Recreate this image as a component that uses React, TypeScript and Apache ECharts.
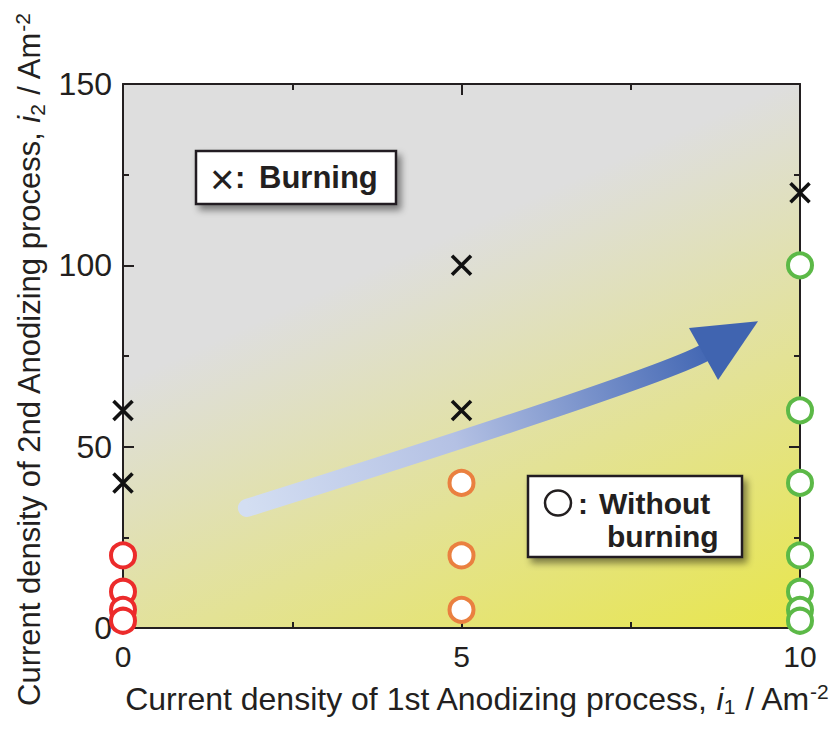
import React, { useEffect, useRef } from "react";
import * as echarts from "echarts";

// ---- data ----
const X_MIN = 0;
const X_MAX = 10;
const Y_MIN = 0;
const Y_MAX = 150;
const BURNING: number[][] = [
  [0, 60],
  [0, 40],
  [5, 100],
  [5, 60],
  [10, 120],
];
const NO_BURN_X0: number[] = [20, 10, 5, 2];
const NO_BURN_X5: number[] = [40, 20, 5];
const NO_BURN_X10: number[] = [100, 60, 40, 20, 10, 5, 2];

const X_TITLE = "{t|Current density of 1st Anodizing process, }{i|i}{sub|1}{t| / Am}{sup|-2}";
const Y_TITLE = "{t|Current density of 2nd Anodizing process, }{i|i}{sub|2}{t| / Am}{sup|-2}";

// ---- annotation geometry (data units) ----
const ARROW_TAIL = [1.83, 33.1];
const ARROW_CTRL = [7.93, 68.9];
const ARROW_END = [8.61, 76.1];
const ARROW_HEAD = [
  [8.36, 82.7],
  [9.38, 84.6],
  [8.79, 68.4],
];
const BG_GRAD_START = [6.96, 126.3];
const BG_GRAD_END = [10, 0];

const FONT = '"Liberation Sans", Arial, Helvetica, sans-serif';
const INK = "#231f20";

function richName(size: number) {
  return {
    t: { fontSize: size, lineHeight: 36, color: INK, fontFamily: FONT },
    i: { fontSize: size, lineHeight: 36, color: INK, fontFamily: FONT, fontStyle: "italic" },
    sub: { fontSize: 21, lineHeight: 20, color: INK, fontFamily: FONT, verticalAlign: "bottom" },
    sup: { fontSize: 21, lineHeight: 20, color: INK, fontFamily: FONT, verticalAlign: "top" },
  };
}

function axisCommon() {
  return {
    axisLine: { show: true, onZero: false, lineStyle: { color: INK, width: 2 } },
    axisTick: { show: true, inside: true, length: 11, lineStyle: { color: INK, width: 2 } },
    minorTick: { show: true, splitNumber: 2, length: 6, lineStyle: { color: INK, width: 2 } },
    splitLine: { show: false },
    minorSplitLine: { show: false },
  };
}

function circleSeries(x: number, ys: number[], color: string) {
  return {
    type: "scatter",
    data: ys.map((y) => [x, y]),
    symbol: "circle",
    symbolSize: 24,
    clip: false,
    silent: true,
    itemStyle: { color: "#ffffff", borderColor: color, borderWidth: 4, opacity: 1 },
    z: 3,
  };
}

function label(text: string, x: number, y: number, font: string) {
  return {
    type: "text",
    silent: true,
    z: 21,
    style: {
      text,
      x,
      y,
      font,
      fill: INK,
      align: "left",
      verticalAlign: "middle",
      textAlign: "left",
      textVerticalAlign: "middle",
    },
  };
}

export default function App() {
  const ref = useRef<HTMLDivElement>(null);

  useEffect(() => {
    const chart = echarts.init(ref.current!, null, { renderer: "svg" });
    chart.setOption({
      animation: false,
      backgroundColor: "#ffffff",
      grid: { left: 123, right: 36, top: 84, bottom: 108, containLabel: false },
      xAxis: [
        {
          type: "value",
          min: X_MIN,
          max: X_MAX,
          interval: 5,
          position: "bottom",
          ...axisCommon(),
          axisLabel: { show: true, margin: 13, fontSize: 30, color: INK, fontFamily: FONT },
          name: X_TITLE,
          nameLocation: "middle",
          nameGap: 53,
          nameTextStyle: { fontSize: 32, color: INK, fontFamily: FONT, padding: [0, 0, 0, 30], rich: richName(32) },
        },
        {
          type: "value",
          min: X_MIN,
          max: X_MAX,
          interval: 5,
          position: "top",
          ...axisCommon(),
          axisLabel: { show: false },
        },
      ],
      yAxis: [
        {
          type: "value",
          min: Y_MIN,
          max: Y_MAX,
          interval: 50,
          position: "left",
          ...axisCommon(),
          axisLabel: { show: true, margin: 11, fontSize: 32, color: INK, fontFamily: FONT },
          name: Y_TITLE,
          nameLocation: "middle",
          nameGap: 74,
          nameTextStyle: { fontSize: 31, color: INK, fontFamily: FONT, padding: [0, 8, 0, 0], rich: richName(31) },
        },
        {
          type: "value",
          min: Y_MIN,
          max: Y_MAX,
          interval: 50,
          position: "right",
          ...axisCommon(),
          axisLabel: { show: false },
        },
      ],
      series: [
        {
          type: "scatter",
          data: BURNING,
          symbol: "path://M0,0L10,10M10,0L0,10",
          symbolSize: 19,
          clip: false,
          silent: true,
          itemStyle: { color: "transparent", borderColor: "#111111", borderWidth: 3.6, opacity: 1 },
          z: 3,
        },
        circleSeries(0, NO_BURN_X0, "#ec2b2b"),
        circleSeries(5, NO_BURN_X5, "#ea8040"),
        circleSeries(10, NO_BURN_X10, "#5cb947"),
      ],
    });

    const px = (p: number[]) =>
      chart.convertToPixel({ xAxisIndex: 0, yAxisIndex: 0 }, p) as number[];

    const tl = px([X_MIN, Y_MAX]);
    const br = px([X_MAX, Y_MIN]);
    const gs = px(BG_GRAD_START);
    const ge = px(BG_GRAD_END);
    const a0 = px(ARROW_TAIL);
    const a1 = px(ARROW_CTRL);
    const a2 = px(ARROW_END);
    const head = ARROW_HEAD.map(px);

    const shadow = {
      shadowBlur: 7,
      shadowColor: "rgba(0,0,0,0.45)",
      shadowOffsetX: 4,
      shadowOffsetY: 5,
    };

    chart.setOption({
      graphic: [
        {
          type: "rect",
          silent: true,
          z: -10,
          shape: { x: tl[0], y: tl[1], width: br[0] - tl[0], height: br[1] - tl[1] },
          style: {
            fill: new echarts.graphic.LinearGradient(
              gs[0], gs[1], ge[0], ge[1],
              [
                { offset: 0, color: "#dedede" },
                { offset: 1, color: "#e8e64c" },
              ],
              true
            ),
          },
        },
        {
          type: "bezierCurve",
          silent: true,
          z: 1,
          shape: { x1: a0[0], y1: a0[1], cpx1: a1[0], cpy1: a1[1], x2: a2[0], y2: a2[1] },
          style: {
            fill: null,
            lineWidth: 18,
            lineCap: "round",
            stroke: new echarts.graphic.LinearGradient(
              a0[0], a0[1], a2[0], a2[1],
              [
                { offset: 0, color: "#d3def2" },
                { offset: 0.45, color: "#b4c1e4" },
                { offset: 1, color: "#4468b4" },
              ],
              true
            ),
          },
        },
        {
          type: "polygon",
          silent: true,
          z: 1,
          shape: { points: head },
          style: { fill: "#4064b0" },
        },
        // Burning legend box
        {
          type: "rect",
          silent: true,
          z: 20,
          shape: { x: 196, y: 151, width: 200, height: 53 },
          style: { fill: "#ffffff", stroke: INK, lineWidth: 2.5, ...shadow },
        },
        label("×", 210, 179, `normal 42px ${FONT}`),
        label(":", 235, 177, `bold 31px ${FONT}`),
        label("Burning", 259, 177, `bold 31px ${FONT}`),
        // Without burning legend box
        {
          type: "rect",
          silent: true,
          z: 20,
          shape: { x: 528, y: 476, width: 214, height: 81 },
          style: { fill: "#ffffff", stroke: INK, lineWidth: 2.5, ...shadow },
        },
        {
          type: "ellipse",
          silent: true,
          z: 21,
          shape: { cx: 558, cy: 503, rx: 13, ry: 12.5 },
          style: { fill: "#ffffff", stroke: INK, lineWidth: 2.5 },
        },
        label(":", 578, 503, `bold 30px ${FONT}`),
        label("Without", 599, 503, `bold 30px ${FONT}`),
        label("burning", 607, 536, `bold 30px ${FONT}`),
      ],
    });

    return () => chart.dispose();
  }, []);

  return (
    <div
      ref={ref}
      style={{ position: "fixed", left: 0, top: 0, width: 836, height: 736 }}
    />
  );
}
